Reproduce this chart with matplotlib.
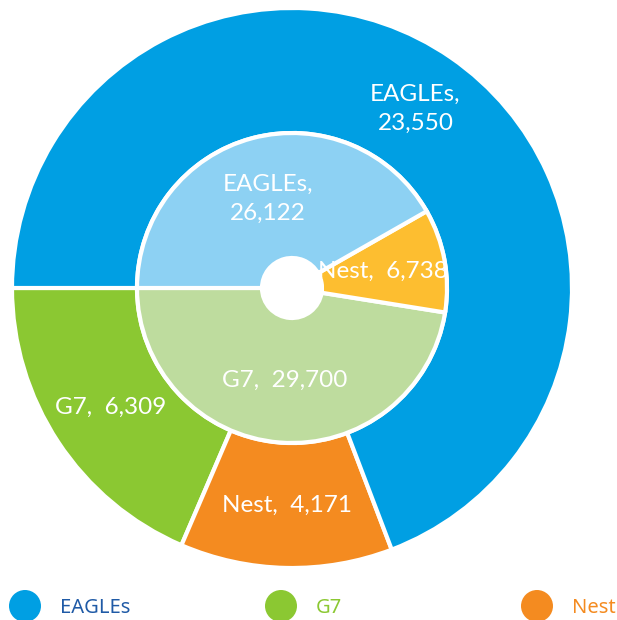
import numpy as np
import matplotlib
matplotlib.use("Agg")
from matplotlib import pyplot as plt

# datos
categorias = ["EAGLEs", "G7", "Nest"]
valores_externos = [23550, 6309, 4171]
valores_internos = [26122, 29700, 6738]

colores_externos = ["#009fe3", "#8bc832", "#f48b20"]
colores_internos = ["#8dd1f3", "#bedc9e", "#fdbe30"]
colores_leyenda_texto = ["#1f5aa6", "#8bc832", "#f48b20"]

# orden de dibujo: empieza a la izquierda y gira en sentido antihorario
orden = [1, 2, 0]


def etiqueta(nombre, valor):
    if nombre == "EAGLEs":
        return "{},\n{:,}".format(nombre, valor)
    return "{},  {:,}".format(nombre, valor)


fig = plt.figure(figsize=(6.17, 6.20), dpi=100)
ax = fig.add_axes([0, 0, 1, 1])

cx, cy = 292, 332
r_ext, r_int, r_hueco = 280, 155, 30

fuente = dict(color="white", fontsize=17.5, family="Lato", linespacing=1.45)

cuñas, textos = ax.pie(
    [valores_externos[i] for i in orden],
    labels=[etiqueta(categorias[i], valores_externos[i]) for i in orden],
    colors=[colores_externos[i] for i in orden],
    radius=r_ext, center=(cx, cy), startangle=180, counterclock=True,
    labeldistance=((r_ext + r_int) / 2) / r_ext,
    wedgeprops=dict(width=r_ext - r_int, edgecolor="white", linewidth=3),
    textprops=fuente)
for t in textos:
    t.set_ha("center")
    t.set_va("center")

cuñas2, textos2 = ax.pie(
    [valores_internos[i] for i in orden],
    labels=[etiqueta(categorias[i], valores_internos[i]) for i in orden],
    colors=[colores_internos[i] for i in orden],
    radius=r_int, center=(cx, cy), startangle=180, counterclock=True,
    labeldistance=((r_int + r_hueco) / 2) / r_int,
    wedgeprops=dict(width=r_int - r_hueco, edgecolor="white", linewidth=3),
    textprops=fuente)
for t in textos2:
    t.set_ha("center")
    t.set_va("center")

# leyenda abajo
xs = np.linspace(25, 537, len(categorias))
ax.scatter(xs, [14] * len(xs), s=(32 * 72 / 100) ** 2,
           c=colores_externos, edgecolors="none", clip_on=False)
for x, nombre, c in zip(xs, categorias, colores_leyenda_texto):
    ax.text(x + 35, 12, nombre, color=c, fontsize=14.5, family="Noto Sans",
            weight="medium", ha="left", va="center")

ax.set_xlim(0, 617)
ax.set_ylim(0, 620)
ax.set_aspect("equal")
ax.axis("off")

fig.savefig("out.png", dpi=100)
